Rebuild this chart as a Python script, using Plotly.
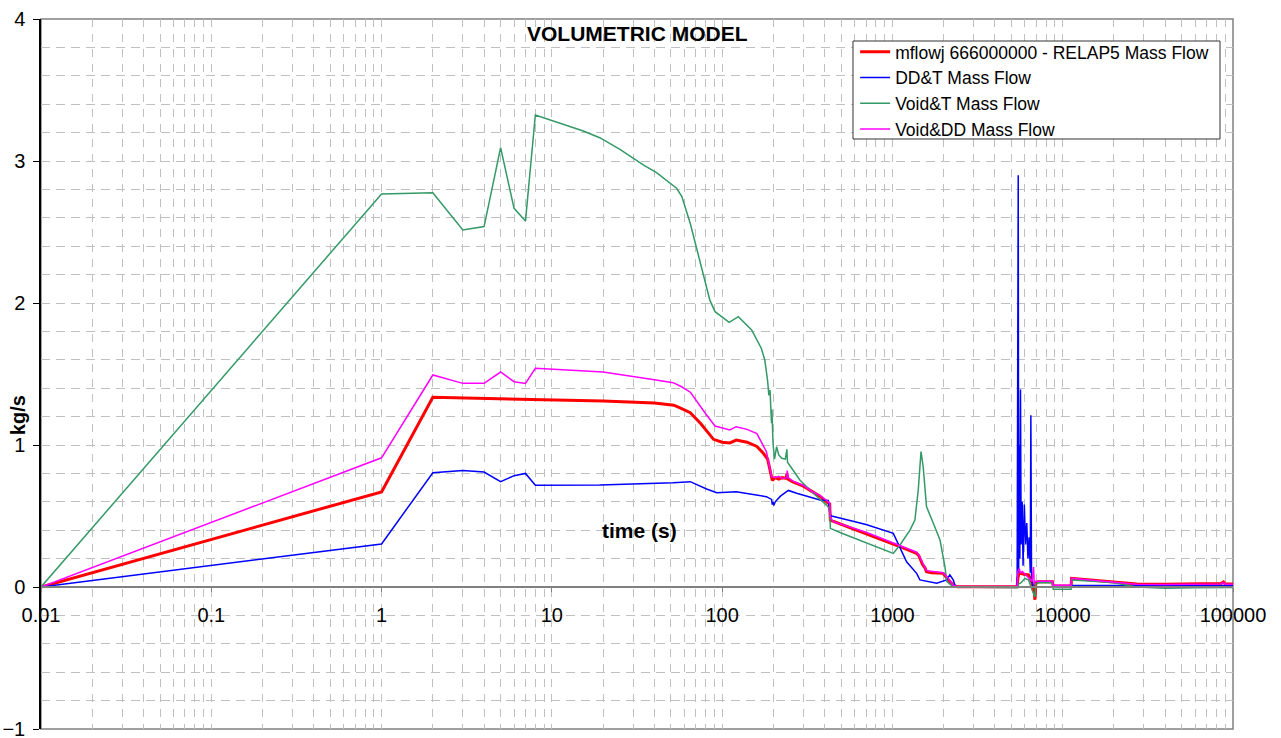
import plotly.graph_objects as go

# ---------------- data ----------------
red_t = [0.01, 1, 2, 5, 10, 20, 40, 52, 57, 65, 75, 89, 100, 111, 121, 140, 160, 175, 185, 191, 197,
         205, 215, 225, 238, 240, 243, 260, 300, 340, 375, 410, 428, 432, 500, 700, 900, 1107, 1387,
         1430, 1500, 1553, 1585, 1700, 1986, 2100, 2275, 2400, 5400, 5450, 5550, 5900, 6300, 6600,
         6800, 6870, 6950, 7200, 8700, 8800, 11200, 11270, 15000, 20000, 27200, 40000, 60000, 85000,
         88000, 90000, 100000]
red_v = [0, 0.67, 1.336, 1.325, 1.318, 1.31, 1.295, 1.28, 1.26, 1.228, 1.15, 1.04, 1.02, 1.015, 1.035,
         1.02, 0.99, 0.94, 0.9, 0.82, 0.75, 0.77, 0.76, 0.77, 0.765, 0.8, 0.76, 0.74, 0.71, 0.67, 0.64,
         0.6, 0.585, 0.47, 0.44, 0.374, 0.325, 0.284, 0.237, 0.22, 0.16, 0.135, 0.108, 0.1, 0.096, 0.06,
         0.012, 0.002, 0.002, 0.06, 0.1, 0.09, 0.085, 0.03, -0.03, -0.09, 0.03, 0.037, 0.037, 0.007,
         0.007, 0.061, 0.048, 0.035, 0.022, 0.02, 0.022, 0.024, 0.035, 0.022, 0.022]

blue_t = [0.01, 1, 2, 3, 4, 5, 6, 7, 8, 19.1, 51.6, 65, 81, 93, 121, 150, 182, 195, 197, 199, 201, 205,
          220, 239, 245, 274, 328, 375, 420, 430, 440, 700, 1012, 1059, 1211, 1387, 1450, 1820, 2083,
          2173, 2275, 2344, 5400, 5480, 5510, 5560, 5600, 5650, 5700, 5780, 5850, 5950, 6050, 6150,
          6250, 6350, 6450, 6500, 6560, 6700, 8700, 11270, 20000, 50000, 100000]
blue_v = [0, 0.303, 0.805, 0.82, 0.81, 0.742, 0.784, 0.80, 0.716, 0.718, 0.735, 0.742, 0.69, 0.664, 0.671,
          0.655, 0.636, 0.617, 0.58, 0.6, 0.575, 0.6, 0.64, 0.671, 0.68, 0.66, 0.636, 0.613, 0.61, 0.507,
          0.5, 0.44, 0.378, 0.33, 0.178, 0.096, 0.05, 0.026, 0.05, 0.085, 0.05, 0.002, 0.0, 2.9, 0.1, 1.0,
          0.2, 1.39, 0.3, 0.6, 0.15, 0.58, 0.3, 0.45, 0.2, 0.35, 0.1, 1.21, 0.05, 0.0, 0.0, 0.01, 0.01,
          0.008, 0.01]

green_t = [0.01, 1, 2, 3, 4, 5, 6, 7, 8, 15.3, 19.1, 25.1, 34.4, 41.2, 54, 58, 65, 74, 84.7, 90.8, 110,
           124.5, 149, 170, 178, 185, 188, 191, 193, 195, 196, 197, 199, 203, 209, 215, 224, 235, 240,
           242, 245, 286, 343, 410, 428, 432, 500, 1012, 1107, 1268, 1355, 1418, 1472, 1516, 1585, 1738,
           1903, 2034, 2083, 2275, 5400, 5500, 5700, 6000, 6300, 6600, 6870, 6950, 7200, 8700, 8800,
           11200, 11270, 15000, 20000, 27200, 40000, 60000, 100000]
green_v = [0, 2.768, 2.777, 2.514, 2.538, 3.094, 2.667, 2.577, 3.324, 3.211, 3.164, 3.082, 2.972, 2.918,
           2.808, 2.75, 2.56, 2.303, 2.02, 1.939, 1.864, 1.904, 1.81, 1.68, 1.599, 1.45, 1.35, 1.387, 1.2,
           1.153, 1.25, 1.05, 1.012, 0.9, 0.988, 0.93, 0.906, 0.9, 0.97, 0.88, 0.87, 0.754, 0.66, 0.577,
           0.55, 0.413, 0.38, 0.237, 0.296, 0.401, 0.472, 0.683, 0.953, 0.847, 0.566, 0.449, 0.331, 0.143,
           0.04, 0.0, -0.005, 0.02, 0.03, 0.06, 0.05, -0.02, -0.07, 0.02, 0.03, 0.03, -0.016, -0.016,
           0.05, 0.04, 0.03, 0.0, -0.008, -0.005, -0.003]

mag_t = [0.01, 1, 2, 3, 4, 5, 6, 7, 8, 20, 40, 51.6, 57.8, 65.3, 80, 90.8, 111, 121, 140, 160, 182, 191,
         195, 205, 215, 225, 240, 241, 244, 260, 300, 340, 375, 410, 428, 432, 450, 700, 1107, 1387,
         1430, 1500, 1553, 1585, 1986, 2100, 2275, 2400, 5400, 5450, 5550, 5650, 5800, 6000, 6300, 6600,
         6740, 6800, 6900, 8700, 8800, 11200, 11270, 15000, 20000, 27200, 40000, 60000, 85000, 88000,
         90000, 100000]
mag_v = [0, 0.91, 1.493, 1.434, 1.434, 1.514, 1.446, 1.434, 1.54, 1.514, 1.46, 1.439, 1.41, 1.37, 1.22,
         1.134, 1.106, 1.129, 1.11, 1.08, 0.953, 0.84, 0.777, 0.77, 0.78, 0.765, 0.77, 0.82, 0.77, 0.745,
         0.715, 0.67, 0.645, 0.61, 0.59, 0.49, 0.46, 0.385, 0.29, 0.245, 0.225, 0.17, 0.14, 0.115, 0.1,
         0.07, 0.012, 0.003, 0.003, 0.11, 0.13, 0.1, 0.11, 0.09, 0.06, 0.04, 0.14, 0.02, 0.04, 0.04, 0.012,
         0.012, 0.062, 0.05, 0.036, 0.02, 0.018, 0.02, 0.022, 0.032, 0.02, 0.02]

series_names = ["mflowj 666000000 - RELAP5 Mass Flow", "DD&T Mass Flow",
                "Void&T Mass Flow", "Void&DD Mass Flow"]
series_colors = ["#FF0000", "#0000FF", "#339966", "#FF00FF"]
series_widths = [3, 1.5, 1.5, 1.5]

x_tickvals = [0.01, 0.1, 1, 10, 100, 1000, 10000, 100000]
x_ticktext = ["0.01", "0.1", "1", "10", "100", "1000", "10000", "100000"]
x_minor = [m * 10.0 ** k for k in range(-2, 5) for m in range(2, 10)]

title_text = "VOLUMETRIC MODEL"
xtitle_text = "time (s)"
ytitle_text = "kg/s"

FONT = "Arial, Liberation Sans, sans-serif"
GRID = "#C0C0C0"

fig = go.Figure()
for t, v, name, col, w in zip([red_t, blue_t, green_t, mag_t], [red_v, blue_v, green_v, mag_v],
                              series_names, series_colors, series_widths):
    fig.add_trace(go.Scatter(x=t, y=v, mode="lines", name=name,
                             line=dict(color=col, width=w)))

fig.update_layout(
    width=1281, height=738,
    margin=dict(l=41, r=48, t=19, b=9, autoexpand=False),
    paper_bgcolor="white", plot_bgcolor="white",
    font=dict(family=FONT, color="black"),
    showlegend=True,
    legend=dict(x=0.683, y=0.9789, xanchor="left", yanchor="top",
                bgcolor="rgba(0,0,0,0)", borderwidth=0,
                font=dict(family=FONT, size=17.5, color="black"),
                tracegroupgap=0),
    xaxis=dict(
        type="log", range=[-2, 5], anchor="free", position=0.2, automargin=False,
        tickmode="array", tickvals=x_tickvals, ticktext=x_ticktext,
        ticks="outside", ticklen=4, tickcolor="#808080",
        ticklabelstandoff=6, ticklabeloverflow="allow",
        tickfont=dict(family=FONT, size=20, color="black"),
        showline=True, linecolor="#808080", linewidth=1.5,
        showgrid=True, gridcolor=GRID, griddash="8px,7px", gridwidth=1,
        minor=dict(tickmode="array", tickvals=x_minor, showgrid=True,
                   gridcolor=GRID, griddash="8px,7px", gridwidth=1, ticks=""),
        zeroline=False,
    ),
    yaxis=dict(
        range=[-1, 4], tickmode="linear", tick0=0, dtick=1, automargin=False,
        ticks="outside", ticklen=6, tickcolor="black",
        tickfont=dict(family=FONT, size=20, color="black"),
        ticklabelstandoff=4, ticklabeloverflow="allow",
        showline=True, linecolor="black", linewidth=1.5,
        showgrid=True, gridcolor=GRID, griddash="9px,6px", gridwidth=1,
        minor=dict(dtick=0.2, tick0=0, showgrid=True, gridcolor=GRID,
                   griddash="9px,6px", gridwidth=1, ticks=""),
        zeroline=False,
    ),
    shapes=[
        dict(type="rect", xref="paper", yref="paper", x0=0, x1=1, y0=0, y1=1,
             line=dict(color="#808080", width=1.5), layer="between"),
        # legend frame
        dict(type="rect", xref="paper", yref="paper", x0=0.6812, x1=0.9891, y0=0.8310, y1=0.9690,
             line=dict(color="#333333", width=1), fillcolor="white", layer="above"),
    ],
    annotations=[
        dict(text="<b>%s</b>" % title_text, xref="paper", yref="paper", x=0.5, y=0.980,
             xanchor="center", yanchor="middle", showarrow=False,
             font=dict(family=FONT, size=21, color="black")),
        dict(text="<b>%s</b>" % xtitle_text, xref="paper", yref="paper", x=0.502, y=0.280,
             xanchor="center", yanchor="middle", showarrow=False,
             font=dict(family=FONT, size=21, color="black")),
        dict(text="<b>%s</b>" % ytitle_text, xref="paper", yref="paper", x=-0.0193, y=0.442,
             xanchor="center", yanchor="middle", showarrow=False, textangle=-90,
             font=dict(family=FONT, size=20, color="black")),
    ],
)

fig.write_html("out.html", config={"displayModeBar": False},
               post_script="document.body.style.margin='0px';document.body.style.overflow='hidden';")
